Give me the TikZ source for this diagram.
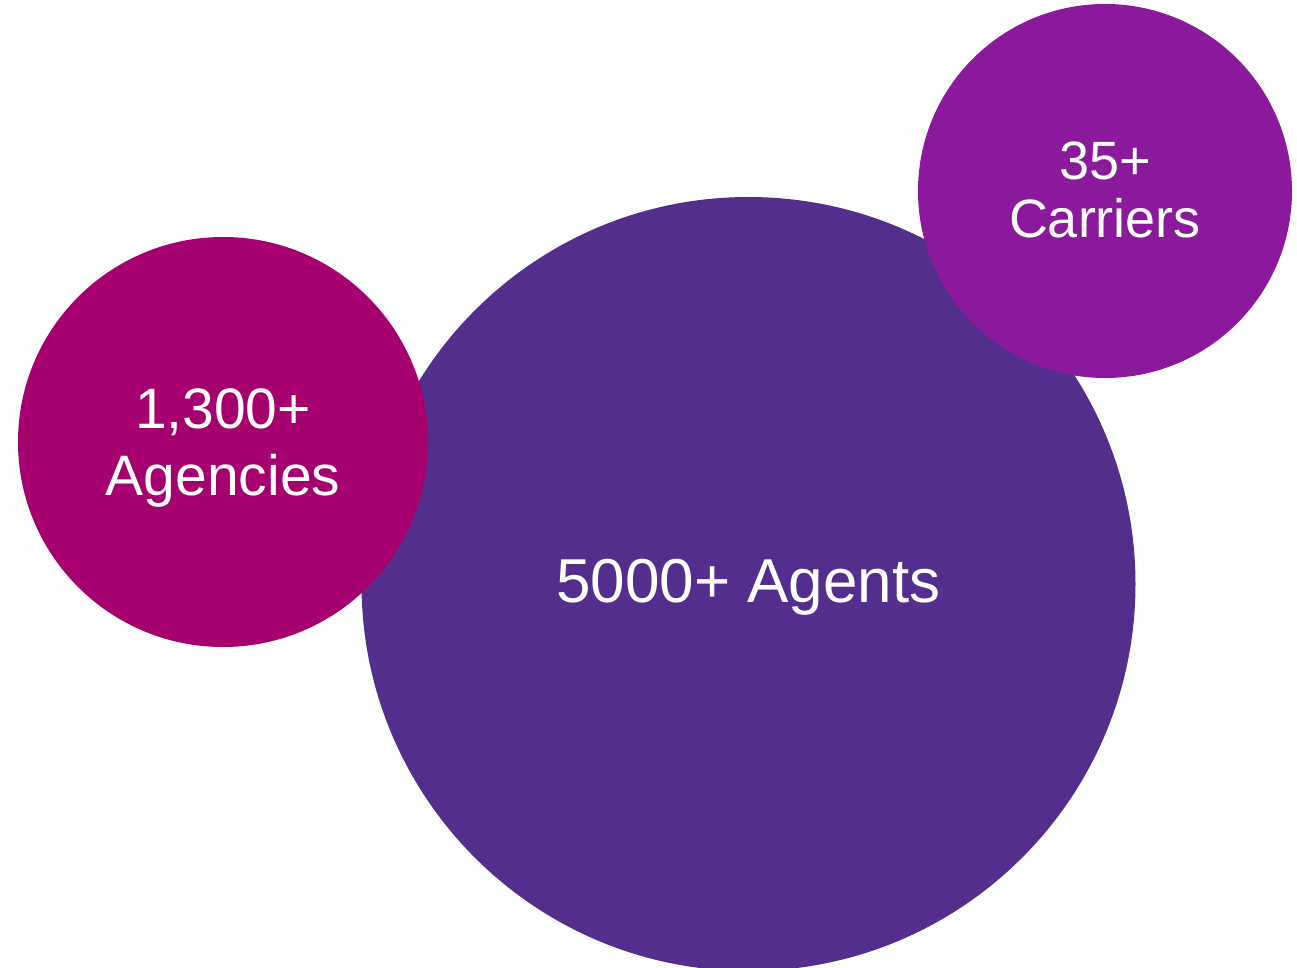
\documentclass[tikz,border=0pt]{standalone}
\usepackage{fontspec}
\setmainfont{Liberation Sans}

\definecolor{agentsviolet}{HTML}{532E8C}
\definecolor{agencymagenta}{HTML}{A6006F}
\definecolor{carrierpurple}{HTML}{8A1A9B}

\begin{document}
\begin{tikzpicture}[x=.5pt,y=-.5pt,
  bubble/.style={circle, inner sep=0pt, draw=none},
  figure/.style={text=white, align=center, anchor=base}]

\useasboundingbox (0,0) rectangle (1297,968);
\clip (0,0) rectangle (1297,968);

\coordinate (cagents) at (748.5,584);
\coordinate (cagencies) at (223,442);
\coordinate (ccarriers) at (1105,191);

% bubbles, the big one first
\node[bubble, fill=agentsviolet, minimum size=387pt] (agents) at (cagents) {};
\node[bubble, fill=agencymagenta, minimum size=205pt] (agencies) at (cagencies) {};
\node[bubble, fill=carrierpurple, minimum size=187pt] (carriers) at (ccarriers) {};

% base of a two line node is its last line
\node[figure, font=\fontsize{31pt}{37pt}\selectfont] (agentstext)
  at ([yshift=-9pt]agents.center) {5000+ Agents};
\node[figure, font=\fontsize{28.5pt}{33.5pt}\selectfont] (agenciestext)
  at ([yshift=-26.5pt]agencies.center) {1,300+\\Agencies};
\node[figure, font=\fontsize{27pt}{29pt}\selectfont] (carrierstext)
  at ([yshift=-23.5pt]carriers.center) {35+\\Carriers};

\end{tikzpicture}
\end{document}
